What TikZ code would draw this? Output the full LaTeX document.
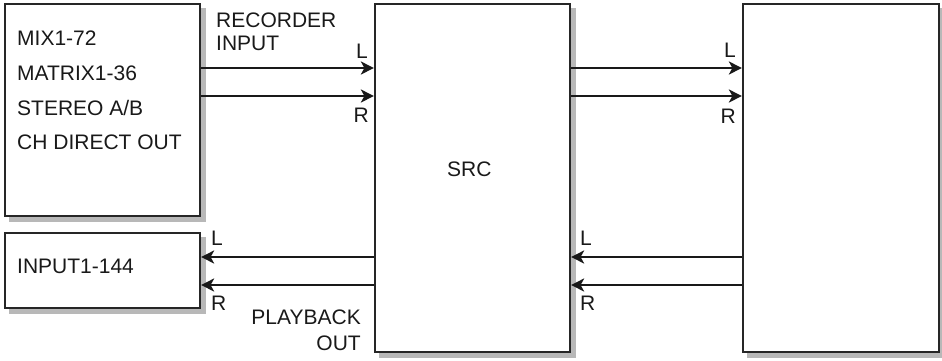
\documentclass[tikz,border=0pt]{standalone}
\usepackage{fontspec}
\setmainfont{Liberation Sans}
\usetikzlibrary{arrows.meta}
\begin{document}
\begin{tikzpicture}[x=1pt,y=-1pt,
  blk/.style={draw=black!85,line width=2.2pt,fill=white,rectangle,inner sep=0pt},
  shd/.style={fill=black!28},
  lbl/.style={font=\fontsize{21}{24}\selectfont,inner sep=0pt,text=black!90},
  sig/.style={line width=2.8pt,draw=black!90,-{Stealth[length=13pt,width=13pt,inset=3.5pt]}}]
\useasboundingbox (0,0) rectangle (942,360);
% shadows
\fill[shd] (9,8) rectangle (206,222);
\fill[shd] (9,237) rectangle (206,314);
\fill[shd] (379,8) rectangle (576,358);
\fill[shd] (747,8) rectangle (945,358);
% boxes
\node[blk,minimum width=195pt,minimum height=212pt] (ltop) at (102.5,110) {};
\node[blk,minimum width=195pt,minimum height=75pt] (lbot) at (102.5,270.5) {};
\node[blk,minimum width=195pt,minimum height=348pt] (src) at (472.5,178) {};
\node[blk,minimum width=196pt,minimum height=348pt] (rbox) at (841,178) {};
% texts in boxes
\node[lbl,anchor=base west] (t1) at (17,45) {MIX1-72};
\node[lbl,anchor=base west] (t2) at (17,80) {MATRIX1-36};
\node[lbl,anchor=base west] (t3) at (17,115) {STEREO A/B};
\node[lbl,anchor=base west] (t4) at (17,149) {CH DIRECT OUT};
\node[lbl,anchor=base west] (t5) at (17,273) {INPUT1-144};
\node[lbl,anchor=base west] (tsrc) at (447,176) {SRC};
% coordinates for signal lines
\coordinate (y1) at (0,68);
\coordinate (y2) at (0,96);
\coordinate (y3) at (0,257);
\coordinate (y4) at (0,285);
% arrows
\draw[sig] (ltop.east |- y1) -- (src.west |- y1);
\draw[sig] (ltop.east |- y2) -- (src.west |- y2);
\draw[sig] (src.east |- y1) -- (rbox.west |- y1);
\draw[sig] (src.east |- y2) -- (rbox.west |- y2);
\draw[sig] (src.west |- y3) -- (lbot.east |- y3);
\draw[sig] (src.west |- y4) -- (lbot.east |- y4);
\draw[sig] (rbox.west |- y3) -- (src.east |- y3);
\draw[sig] (rbox.west |- y4) -- (src.east |- y4);
% labels
\node[lbl,anchor=base west] (rec1) at (216,27) {RECORDER};
\node[lbl,anchor=base west] (rec2) at (216,50) {INPUT};
\node[lbl,anchor=base east] (l1) at (368,58) {L};
\node[lbl,anchor=base east] (r1) at (369,122) {R};
\node[lbl,anchor=base east] (l2) at (736,57) {L};
\node[lbl,anchor=base east] (r2) at (736,123) {R};
\node[lbl,anchor=base west] (l3) at (211,245) {L};
\node[lbl,anchor=base west] (r3) at (211,310) {R};
\node[lbl,anchor=base west] (l4) at (580,245) {L};
\node[lbl,anchor=base west] (r4) at (580,310) {R};
\node[lbl,anchor=base east] (pb1) at (361,324) {PLAYBACK};
\node[lbl,anchor=base east] (pb2) at (361,350) {OUT};
\end{tikzpicture}
\end{document}
